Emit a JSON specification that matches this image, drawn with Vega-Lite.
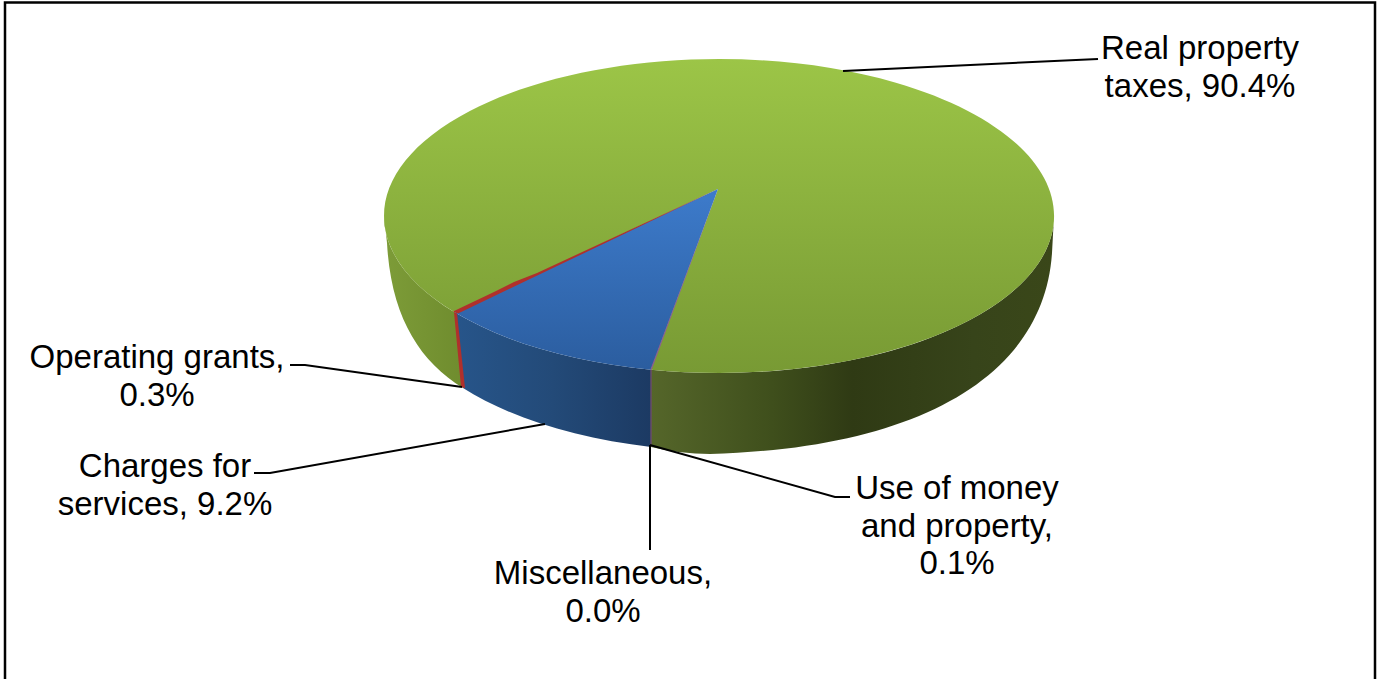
{
  "$schema": "https://vega.github.io/schema/vega-lite/v6.json",
  "width": 1377,
  "height": 679,
  "padding": 0,
  "autosize": "none",
  "background": "white",
  "view": {"stroke": null},
  "config": {"axis": {"disable": true}},
  "data": {"values": [
    {"slice": "Real property taxes", "share": 90.4, "label": "Real property\ntaxes, 90.4%"},
    {"slice": "Operating grants", "share": 0.3, "label": "Operating grants,\n0.3%"},
    {"slice": "Charges for services", "share": 9.2, "label": "Charges for\nservices, 9.2%"},
    {"slice": "Miscellaneous", "share": 0.0, "label": "Miscellaneous,\n0.0%"},
    {"slice": "Use of money and property", "share": 0.1, "label": "Use of money\nand property,\n0.1%"}
  ]},
  "encoding": {
    "x": {"datum": 0, "axis": null, "scale": {"domain": [-719, 658], "nice": false, "zero": false}},
    "y": {"datum": 0, "axis": null, "scale": {"domain": [-216, 463], "reverse": true, "nice": false, "zero": false}}
  },
  "layer": [
    {"transform": [{"filter": "datum.slice === 'Real property taxes'"}],
     "mark": {"type": "point", "size": 4, "opacity": 1, "filled": false, "stroke": "black", "strokeWidth": 2.5, "shape": "M-714 468 L-714 -213.5 L656 -213.5 L656 468"}},
    {"transform": [{"filter": "datum.slice === 'Real property taxes'"}],
     "mark": {"type": "point", "size": 4, "opacity": 1, "filled": true,
       "fill": {"gradient": "linear", "x1": 0, "y1": 0, "x2": 1, "y2": 0, "stops": [{"offset": 0, "color": "#7d9c38"}, {"offset": 1, "color": "#6f8c2e"}]},
       "shape": "M-335 0 L-332 27 C-328 100 -300 145 -256 172 L-264 96.6 A335 157 0 0 1 -335 0 Z"}},
    {"transform": [{"filter": "datum.slice === 'Real property taxes'"}],
     "mark": {"type": "point", "size": 4, "opacity": 1, "filled": true,
       "fill": {"gradient": "linear", "x1": 0, "y1": 0, "x2": 1, "y2": 0, "stops": [{"offset": 0, "color": "#55662a"}, {"offset": 0.3, "color": "#3f4f1c"}, {"offset": 0.5, "color": "#2f3a14"}, {"offset": 0.8, "color": "#37441a"}, {"offset": 1, "color": "#3a4719"}]},
       "shape": "M-68 153.7 A335 157 0 0 0 335 0 L333 37 C325 160 200 232 -9 238 Q-39 238 -68 231 Z"}},
    {"transform": [{"filter": "datum.slice === 'Charges for services'"}],
     "mark": {"type": "point", "size": 4, "opacity": 1, "filled": true,
       "fill": {"gradient": "linear", "x1": 0, "y1": 0, "x2": 1, "y2": 0, "stops": [{"offset": 0, "color": "#27558a"}, {"offset": 0.5, "color": "#234a78"}, {"offset": 1, "color": "#1c3a63"}]},
       "shape": "M-264 96.6 A335 157 0 0 0 -68 153.7 L-68 231 A332 160 0 0 1 -256 172 Z"}},
    {"transform": [{"filter": "datum.slice === 'Operating grants'"}],
     "mark": {"type": "point", "size": 4, "opacity": 1, "filled": true, "fill": "#b0302c", "shape": "M-265 96 L-262 97 L-254 172 L-258 171 Z"}},
    {"transform": [{"filter": "datum.slice === 'Use of money and property'"}],
     "mark": {"type": "point", "size": 4, "opacity": 1, "filled": true, "fill": "#6a4a70", "shape": "M-68.7 153.7 L-67.3 153.7 L-67.3 231 L-68.7 231 Z"}},
    {"transform": [{"filter": "datum.slice === 'Real property taxes'"}],
     "mark": {"type": "point", "size": 4, "opacity": 1, "filled": true,
       "fill": {"gradient": "linear", "x1": 0, "y1": 0, "x2": 0, "y2": 1, "stops": [{"offset": 0, "color": "#9cc547"}, {"offset": 1, "color": "#789a34"}]},
       "shape": "M-1 -27 L-68 153.7 A335 157 0 1 0 -264 96.6 Z"}},
    {"transform": [{"filter": "datum.slice === 'Charges for services'"}],
     "mark": {"type": "point", "size": 4, "opacity": 1, "filled": true,
       "fill": {"gradient": "linear", "x1": 0, "y1": 0, "x2": 0, "y2": 1, "stops": [{"offset": 0, "color": "#3d7bcb"}, {"offset": 1, "color": "#2b5d9f"}]},
       "shape": "M-1 -27 L-264 96.6 A335 157 0 0 0 -68 153.7 Z"}},
    {"transform": [{"filter": "datum.slice === 'Operating grants'"}],
     "mark": {"type": "point", "size": 4, "opacity": 1, "filled": true, "fill": "#b0302c", "shape": "M-1 -27 L-182 57 L-205 66 L-225 76 L-266 95.4 L-261 97.5 Z"}},
    {"transform": [{"filter": "datum.slice === 'Use of money and property'"}],
     "mark": {"type": "point", "size": 4, "opacity": 1, "filled": true, "fill": "#8a5f8f", "shape": "M-1 -27 L-68.7 153.7 L-67.3 153.7 Z"}},
    {"transform": [{"filter": "datum.slice === 'Real property taxes'"}],
     "mark": {"type": "point", "size": 4, "opacity": 1, "filled": false, "stroke": "black", "strokeWidth": 2, "shape": "M124 -145 L379 -157"}},
    {"transform": [{"filter": "datum.slice === 'Operating grants'"}],
     "mark": {"type": "point", "size": 4, "opacity": 1, "filled": false, "stroke": "black", "strokeWidth": 2, "shape": "M-429 149 L-414 149 L-257 171"}},
    {"transform": [{"filter": "datum.slice === 'Charges for services'"}],
     "mark": {"type": "point", "size": 4, "opacity": 1, "filled": false, "stroke": "black", "strokeWidth": 2, "shape": "M-465 257 L-449 257 L-174 208"}},
    {"transform": [{"filter": "datum.slice === 'Miscellaneous'"}],
     "mark": {"type": "point", "size": 4, "opacity": 1, "filled": false, "stroke": "black", "strokeWidth": 2, "shape": "M-69 229 L-69 334"}},
    {"transform": [{"filter": "datum.slice === 'Use of money and property'"}],
     "mark": {"type": "point", "size": 4, "opacity": 1, "filled": false, "stroke": "black", "strokeWidth": 2, "shape": "M-69 229 L116 281 L131 281"}},
    {"transform": [{"filter": "datum.slice === 'Real property taxes'"}],
     "mark": {"type": "text", "font": "Liberation Sans", "fontSize": 33, "lineHeight": 37.5, "lineBreak": "\n", "align": "center", "baseline": "middle", "color": "black"},
     "encoding": {"x": {"datum": 481, "axis": null}, "y": {"datum": -167, "axis": null}, "text": {"field": "label"}}},
    {"transform": [{"filter": "datum.slice === 'Operating grants'"}],
     "mark": {"type": "text", "font": "Liberation Sans", "fontSize": 33, "lineHeight": 37.5, "lineBreak": "\n", "align": "center", "baseline": "middle", "color": "black"},
     "encoding": {"x": {"datum": -562, "axis": null}, "y": {"datum": 142, "axis": null}, "text": {"field": "label"}}},
    {"transform": [{"filter": "datum.slice === 'Charges for services'"}],
     "mark": {"type": "text", "font": "Liberation Sans", "fontSize": 33, "lineHeight": 37.5, "lineBreak": "\n", "align": "center", "baseline": "middle", "color": "black"},
     "encoding": {"x": {"datum": -554, "axis": null}, "y": {"datum": 251, "axis": null}, "text": {"field": "label"}}},
    {"transform": [{"filter": "datum.slice === 'Miscellaneous'"}],
     "mark": {"type": "text", "font": "Liberation Sans", "fontSize": 33, "lineHeight": 37.5, "lineBreak": "\n", "align": "center", "baseline": "middle", "color": "black"},
     "encoding": {"x": {"datum": -116, "axis": null}, "y": {"datum": 358, "axis": null}, "text": {"field": "label"}}},
    {"transform": [{"filter": "datum.slice === 'Use of money and property'"}],
     "mark": {"type": "text", "font": "Liberation Sans", "fontSize": 33, "lineHeight": 37.5, "lineBreak": "\n", "align": "center", "baseline": "middle", "color": "black"},
     "encoding": {"x": {"datum": 238, "axis": null}, "y": {"datum": 273, "axis": null}, "text": {"field": "label"}}}
  ]
}
